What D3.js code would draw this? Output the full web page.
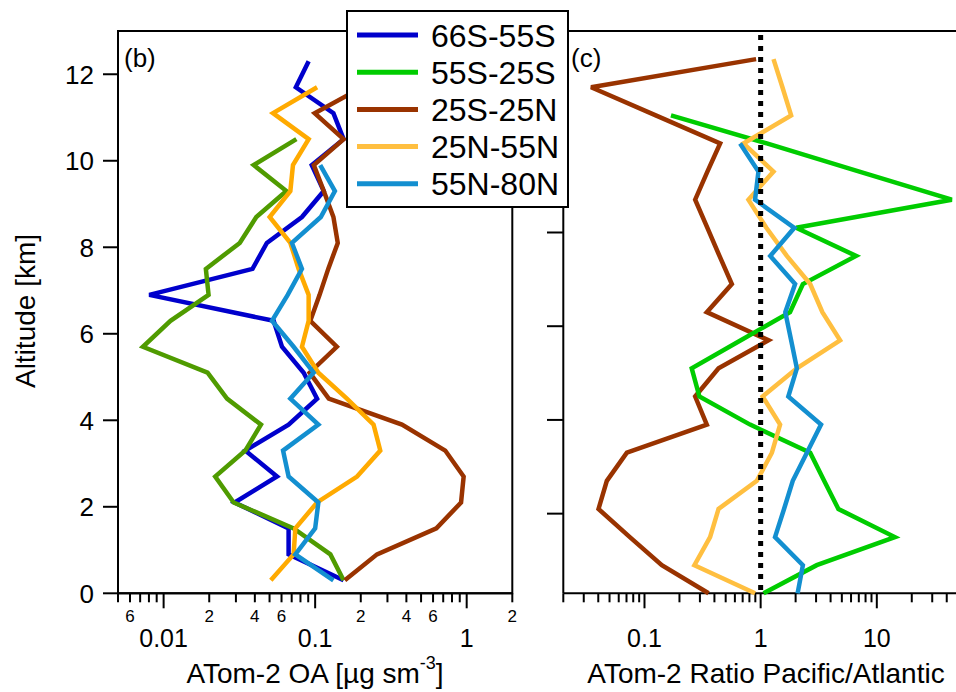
<!DOCTYPE html>
<html lang="en">
<head>
<meta charset="UTF-8">
<title>ATom-2 OA profiles</title>
<script src="https://d3js.org/d3.v7.min.js"></script>
<style>
  body { margin: 0; background: #fff; font-family: "Liberation Sans", Arial, sans-serif; }
  text { fill: #000; }
</style>
</head>
<body>
<svg width="956" height="692"></svg>
<script>
// altitude bins [km]
const altitudes = [0.3, 0.9, 1.5, 2.1, 2.7, 3.3, 3.9, 4.5, 5.1, 5.7, 6.3, 6.9, 7.5, 8.1, 8.7, 9.3, 9.9, 10.5, 11.1, 11.7, 12.3];

const regions = ["66S-55S", "55S-25S", "25S-25N", "25N-55N", "55N-80N"];

// panel (b): ATom-2 OA [ug sm-3], bottom to top
const oa66S55S = [0.154, 0.0668, 0.0668, 0.0294, 0.056, 0.0346, 0.0668, 0.103, 0.084, 0.0604, 0.0532, 0.00804, 0.0386, 0.048, 0.0818, 0.114, 0.095, 0.154, 0.132, 0.0746, 0.0906];
const oa55S25S = [0.154, 0.126, 0.0721, 0.029, 0.0219, 0.0346, 0.0439, 0.0262, 0.0195, 0.0073, 0.0111, 0.0198, 0.019, 0.0318, 0.0409, 0.0646, 0.0393, 0.0752, null, null, null];
const oa25S25N = [0.157, 0.256, 0.631, 0.918, 0.955, 0.722, 0.374, 0.123, 0.092, 0.139, 0.0929, 0.107, 0.122, 0.141, 0.132, 0.114, 0.098, 0.154, 0.0993, 0.205, 0.25];
const oa25N55N = [0.051, 0.0721, 0.074, 0.103, 0.189, 0.269, 0.243, 0.162, 0.105, 0.0818, 0.0906, 0.0906, 0.0778, 0.0686, 0.0501, 0.0686, 0.0714, 0.0906, 0.0527, 0.103, null];
const oa55N80N = [0.132, 0.074, 0.100, 0.105, 0.0668, 0.0614, 0.105, 0.0686, 0.0977, 0.0721, 0.0519, 0.0659, 0.0818, 0.0703, 0.109, 0.135, 0.108, null, null, null, null];

// panel (c): ratio Pacific/Atlantic, bottom to top (0.3 .. 11.7 km)
const ratio55S25S = [1.06, 3.04, 14.3, 4.67, 3.52, 2.67, 0.811, 0.297, 0.255, 0.675, 1.79, 2.31, 6.63, 2.02, 44.2, 7.08, 1.13, 0.169, null, null];
const ratio25S25N = [0.356, 0.141, 0.0748, 0.0402, 0.0474, 0.0705, 0.344, 0.273, 0.434, 1.17, 0.344, 0.565, 0.442, 0.348, 0.273, 0.348, 0.448, 0.125, 0.0347, 0.914];
const ratio25N55N = [0.895, 0.269, 0.367, 0.434, 0.927, 1.25, 1.47, 1.04, 2.05, 4.83, 3.4, 2.67, 1.68, 1.12, 0.785, 1.29, 0.711, 1.83, 1.54, 1.29];
const ratio55N80N = [2.08, 2.31, 1.33, 1.59, 1.89, 2.50, 3.31, 1.73, 2.05, 1.83, 1.63, 1.98, 1.21, 1.95, 0.895, 0.957, 0.665, null, null, null];

// ticks
const altTicks = [0, 2, 4, 6, 8, 10, 12];
const leftMajorTicks = [0.01, 0.1, 1];
const leftMajorLabels = ["0.01", "0.1", "1"];
const leftMinorLabelled = [0.006, 0.02, 0.04, 0.06, 0.2, 0.4, 0.6, 2];
const rightMajorTicks = [0.1, 1, 10];
const rightMajorLabels = ["0.1", "1", "10"];

const legendColors = ["#0000cc", "#00cc00", "#993300", "#ffbf40", "#138fd0"];
const leftColors = ["#0000cc", "#4f9b00", "#993300", "#ffaa00", "#138fd0"];

const svg = d3.select("svg");
const FONT = "'Liberation Sans', Arial, sans-serif";

const yL = d3.scaleLinear().domain([0, 13]).range([593.3, 31]);
const yR = d3.scaleLinear().domain([0.3, 12.3]).range([593.3, 31]);
const xL = d3.scaleLog().domain([0.005, 2]).range([118, 512.3]);
const xR = d3.scaleLog().domain([0.02, 50]).range([563.3, 958]);

function bottomAxis(x, majors, majorLabels, minorLabelled) {
    const all = x.ticks(40).filter(t => t >= x.domain()[0] - 1e-9 && t <= x.domain()[1] + 1e-9);
    const isMajor = t => majors.some(m => Math.abs(m - t) / m < 1e-6);
    const g = svg.append("g").attr("transform", "translate(0,593.3)");
    g.append("line").attr("x1", x.range()[0]).attr("x2", x.range()[1])
        .attr("stroke", "#000").attr("stroke-width", 2);
    g.selectAll(".tk").data(all).enter().append("line")
        .attr("x1", d => x(d)).attr("x2", d => x(d))
        .attr("y1", 0).attr("y2", d => isMajor(d) ? 15 : 9)
        .attr("stroke", "#000").attr("stroke-width", 2);
    g.selectAll(".ml").data(majors).enter().append("text")
        .attr("x", d => x(d)).attr("y", 54)
        .attr("text-anchor", "middle").style("font-size", "25px").style("font-family", FONT)
        .text((d, i) => majorLabels[i]);
    g.selectAll(".nl").data(minorLabelled).enter().append("text")
        .attr("x", d => x(d)).attr("y", 28.5)
        .attr("text-anchor", "middle").style("font-size", "17px").style("font-family", FONT)
        .text(d => String(Math.round(d / Math.pow(10, Math.floor(Math.log10(d) + 1e-9)))));
}

// ---- panel (b) frame + axes
svg.append("rect").attr("x", 118).attr("y", 31).attr("width", 512.3 - 118).attr("height", 593.3 - 31)
    .attr("fill", "none").attr("stroke", "#000").attr("stroke-width", 2);
const gyL = svg.append("g");
gyL.selectAll("line").data(altTicks).enter().append("line")
    .attr("x1", 103).attr("x2", 118).attr("y1", d => yL(d)).attr("y2", d => yL(d))
    .attr("stroke", "#000").attr("stroke-width", 2);
gyL.selectAll("text").data(altTicks).enter().append("text")
    .attr("x", 94).attr("y", d => yL(d)).attr("dy", "0.36em")
    .attr("text-anchor", "end").style("font-size", "26px").style("font-family", FONT)
    .text(d => d);
bottomAxis(xL, leftMajorTicks, leftMajorLabels, leftMinorLabelled);

// ---- panel (c) frame + axes
svg.append("path").attr("d", `M${xR.range()[1]},31H563.3V593.3`)
    .attr("fill", "none").attr("stroke", "#000").attr("stroke-width", 2);
svg.append("g").selectAll("line").data(altTicks.filter(d => d >= 0.3)).enter().append("line")
    .attr("x1", 547).attr("x2", 563.3).attr("y1", d => yR(d)).attr("y2", d => yR(d))
    .attr("stroke", "#000").attr("stroke-width", 2);
bottomAxis(xR, rightMajorTicks, rightMajorLabels, []);

// ---- panel labels
svg.append("text").attr("x", 124).attr("y", 67).style("font-size", "26px").style("font-family", FONT).text("(b)");
svg.append("text").attr("x", 571).attr("y", 67).style("font-size", "26px").style("font-family", FONT).text("(c)");

// ---- axis titles
svg.append("text").attr("transform", "translate(35,311) rotate(-90)")
    .attr("text-anchor", "middle").style("font-size", "28px").style("font-family", FONT)
    .text("Altitude [km]");
const xt = svg.append("text").attr("x", 315).attr("y", 683)
    .attr("text-anchor", "middle").style("font-size", "28px").style("font-family", FONT);
xt.append("tspan").text("ATom-2 OA [µg sm");
xt.append("tspan").attr("dy", -14).style("font-size", "18px").text("-3");
xt.append("tspan").attr("dy", 14).text("]");
svg.append("text").attr("x", 766).attr("y", 683)
    .attr("text-anchor", "middle").style("font-size", "28px").style("font-family", FONT)
    .text("ATom-2 Ratio Pacific/Atlantic");

// ---- profiles
function profile(x, y, values, color) {
    const pts = values.map((v, i) => ({ v: v, a: altitudes[i] }));
    const line = d3.line().defined(d => d.v != null).x(d => x(d.v)).y(d => y(d.a));
    svg.append("path").datum(pts).attr("d", line)
        .attr("fill", "none").attr("stroke", color).attr("stroke-width", 4.5)
        .attr("stroke-linejoin", "miter").attr("stroke-miterlimit", 3);
}
const leftSeries = [oa66S55S, oa55S25S, oa25S25N, oa25N55N, oa55N80N];
leftSeries.forEach((s, i) => profile(xL, yL, s, leftColors[i]));

const rightSeries = [ratio25S25N, ratio55S25S, ratio25N55N, ratio55N80N];
const rightColors = [legendColors[2], legendColors[1], legendColors[3], legendColors[4]];
rightSeries.forEach((s, i) => profile(xR, yR, s, rightColors[i]));

// ratio = 1 reference
svg.append("line").attr("x1", xR(1)).attr("x2", xR(1)).attr("y1", 35).attr("y2", 593.3)
    .attr("stroke", "#000").attr("stroke-width", 5).attr("stroke-dasharray", "5,6");

// ---- legend
const lg = svg.append("g");
lg.append("rect").attr("x", 347).attr("y", 11).attr("width", 221).attr("height", 196)
    .attr("fill", "#fff").attr("stroke", "#000").attr("stroke-width", 2);
regions.forEach((r, i) => {
    const yy = 35 + i * 37.2;
    lg.append("line").attr("x1", 357).attr("x2", 418).attr("y1", yy).attr("y2", yy)
        .attr("stroke", legendColors[i]).attr("stroke-width", 5);
    lg.append("text").attr("x", 431).attr("y", yy).attr("dy", "0.36em")
        .style("font-size", "32px").style("font-family", FONT).text(r);
});
</script>
</body>
</html>
